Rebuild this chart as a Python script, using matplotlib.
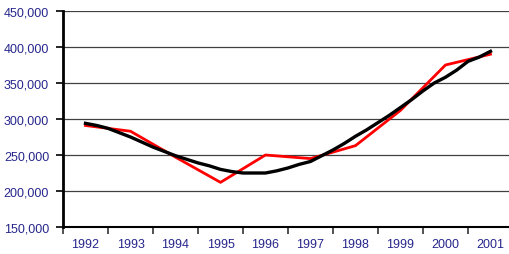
import numpy as np
import matplotlib.pyplot as plt
from matplotlib.ticker import FuncFormatter, MultipleLocator

# Yearly series (red) and quarterly series (black), values in units
years = ["1992", "1993", "1994", "1995", "1996", "1997", "1998", "1999", "2000", "2001"]
red_vals = [291000, 283000, 247000, 212000, 250000, 245000, 263000, 312000, 375000, 390000]

black_vals = [294000, 291000, 287000, 281000,
              275000, 268000, 261000, 255000,
              249000, 244000, 239000, 235000,
              230000, 227000, 225000, 225000,
              225000, 228000, 232000, 237000,
              241000, 249000, 257000, 266000,
              276000, 285000, 295000, 305000,
              316000, 327000, 339000, 350000,
              358000, 368000, 380000, 386000,
              394000]

navy = "#26268c"
plt.rcParams["font.family"] = ["Liberation Sans", "DejaVu Sans"]

fig = plt.figure(figsize=(5.09, 2.55), dpi=100)
ax = fig.add_axes([63 / 509, 1 - 228 / 255, 450 / 509, 216 / 255])

x_red = np.arange(len(years))
x_black = np.arange(len(black_vals)) / 4.0

ax.plot(x_red, red_vals, color="#ff0000", lw=2.0, zorder=3)
ax.plot(x_black, black_vals, color="black", lw=2.4, zorder=4, solid_joinstyle="round")

ax.set_xlim(-0.5, 9.5)
ax.set_ylim(150000, 450000)
ax.yaxis.set_major_locator(MultipleLocator(50000))
ax.yaxis.set_major_formatter(FuncFormatter(lambda v, p: f"{int(v):,}"))
ax.grid(axis="y", color="#404040", lw=0.9)
ax.set_axisbelow(True)

ax.set_xticks(x_red)
ax.set_xticklabels(years)
ax.set_xticks(np.arange(-0.5, 10, 1.0), minor=True)
ax.tick_params(axis="x", which="major", length=0, pad=8, labelsize=9, labelcolor=navy)
ax.tick_params(axis="x", which="minor", length=5, width=1.2, direction="out", color="#333333")
ax.tick_params(axis="y", length=5, width=1.2, pad=5, labelsize=9, labelcolor=navy)

for s in ["top", "right"]:
    ax.spines[s].set_visible(False)
ax.spines["left"].set_linewidth(2)
ax.spines["bottom"].set_linewidth(1.5)

fig.savefig("out.png", dpi=100)
